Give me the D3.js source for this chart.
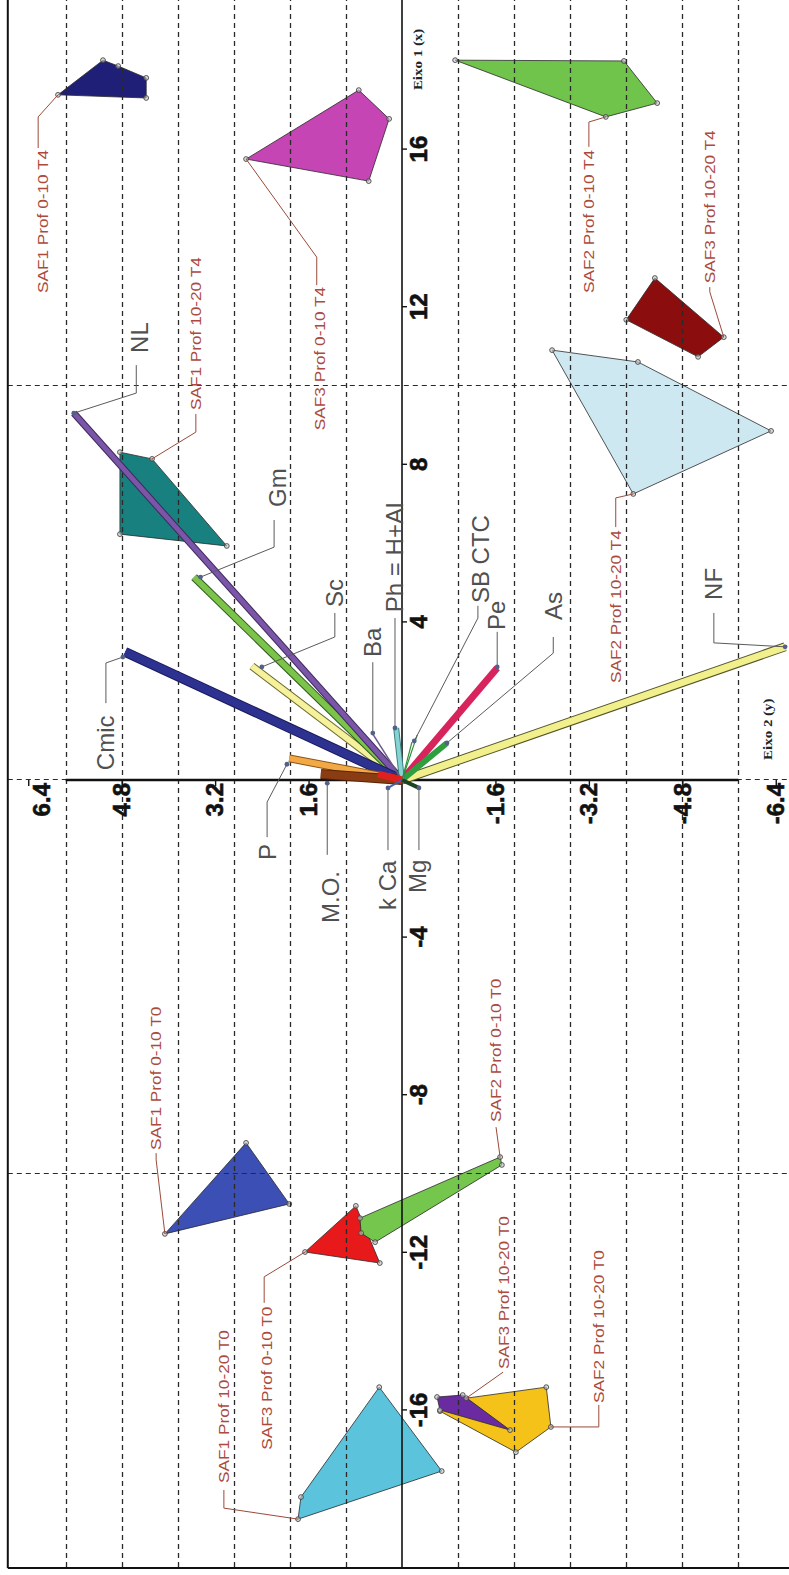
<!DOCTYPE html>
<html>
<head>
<meta charset="utf-8">
<script src="https://cdn.jsdelivr.net/npm/d3@7"></script>
<style>
  html, body { margin: 0; padding: 0; background: #fff; }
  svg { display: block; }
</style>
</head>
<body>
<svg id="chart" width="789" height="1575"></svg>
<script>
// ---------------------------------------------------------------
// PCA biplot (Eixo 1 x Eixo 2): sample-group hulls and soil variables
// ---------------------------------------------------------------

// Sample groups
const groupNames = [
  "SAF1 Prof 0-10 T4", "SAF3 Prof 0-10 T4", "SAF2 Prof 0-10 T4",
  "SAF3 Prof 10-20 T4", "SAF2 Prof 10-20 T4", "SAF1 Prof 10-20 T4",
  "SAF1 Prof 0-10 T0", "SAF3 Prof 0-10 T0", "SAF2 Prof 0-10 T0",
  "SAF1 Prof 10-20 T0", "SAF2 Prof 10-20 T0", "SAF3 Prof 10-20 T0"
];

// Replicate scores [Eixo 1, Eixo 2] forming each group's hull
const groupScores = [
  [[17.39, 5.89], [18.27, 5.12], [18.12, 4.86], [17.82, 4.38], [17.31, 4.38]],
  [[15.76, 2.67], [17.51, 0.74], [16.78, 0.22], [15.20, 0.57]],
  [[18.27, -0.91], [18.25, -3.80], [17.18, -4.37], [16.83, -3.49]],
  [[12.74, -4.33], [11.68, -3.84], [10.74, -5.07], [11.24, -5.51]],
  [[10.91, -2.57], [10.61, -4.04], [8.86, -6.32], [7.26, -3.96]],
  [[8.32, 4.83], [8.15, 4.28], [5.94, 3.00], [6.24, 4.83]],
  [[-9.21, 2.67], [-10.76, 1.93], [-11.52, 4.06]],
  [[-10.81, 0.79], [-11.98, 1.66], [-12.26, 0.38]],
  [[-9.57, -1.68], [-9.77, -1.71], [-11.73, 0.46], [-11.50, 0.70], [-11.12, 0.72]],
  [[-15.41, 0.39], [-17.54, -0.68], [-18.76, 1.78], [-18.20, 1.73]],
  [[-15.41, -2.47], [-16.42, -2.55], [-17.06, -1.95], [-16.02, -0.65], [-15.69, -1.10]],
  [[-15.66, -0.60], [-15.61, -1.04], [-16.50, -1.85], [-15.99, -0.65]]
];

// Soil variables and their loadings
const variableNames = ["NF", "Sc", "Gm", "NL", "Cmic", "P", "M.O.", "Pe", "As",
                       "Ph = H+Al", "Ba", "SB", "CTC", "K", "Ca", "Mg"];
const loadingEixo1 = [3.38, 2.89, 5.15, 9.31, 3.25, 0.55, 0.15, 2.84, 0.94,
                      1.32, 1.19, 1.14, 0.96, 0.15, -0.20, -0.20];
const loadingEixo2 = [-6.56, 2.57, 3.56, 5.62, 4.74, 1.93, 1.39, -1.63, -0.77,
                      0.10, 0.51, -0.26, -0.17, 0.41, 0.24, -0.29];

// Axis ticks
const eixo1Ticks = [-16, -12, -8, -4, 4, 8, 12, 16];
const eixo2Ticks = [6.4, 4.8, 3.2, 1.6, -1.6, -3.2, -4.8, -6.4];
const eixo2GridStep = 0.96;
const eixo1Grid = [-10, 0, 10];

// ---------------- styles ----------------
const groupColors = ["#1f1f78", "#c445b3", "#70c34b", "#8c0d0d", "#cde8f1", "#18807e",
                     "#3b4fb4", "#e8191b", "#74c64c", "#5cc3dd", "#f5c21a", "#6a2ba0"];
const vectorColors   = ["#f2f08c", "#f6f29c", "#7cc34a", "#7a55a8", "#2d3190", "#f2a845",
                        "#8a3c12", "#d8245c", "#2e9e3e", "#86d3d3", "#6a5a8a", "#2f8f3a",
                        "#2f8f3a", "#e0201e", "#4060b0", "#1d4422"];
const vectorWidths   = [7, 6, 6, 5, 8, 6, 8, 7, 6, 4, 1.5, 1.2, 1.2, 7, 2, 4];
const vectorOutlines = ["#55552a", "#6a6a30", "#2f5a1e", "#3d2a5c", "#1a1c5a", "#8a5418",
                        "#5a2408", null, null, "#3a8080", null, null, null, null, null, null];

// ---------------- label layout (Eixo 1 of text start, Eixo 2 of text centre) ----------
const groupLabelLayout = [
  { at: [12.36, 6.15],  leader: [[17.39, 5.89], [16.83, 6.23], [16.04, 6.23]] },
  { at: [8.88, 1.40],   leader: [[15.76, 2.67], [13.27, 1.46], [12.56, 1.46]] },
  { at: [12.36, -3.20], leader: [[16.83, -3.49], [16.70, -3.20], [16.07, -3.20]] },
  { at: [12.61, -5.27], leader: [[11.24, -5.51], [12.39, -5.27], [12.51, -5.27]] },
  { at: [2.46, -3.66],  leader: [[7.26, -3.96], [7.16, -3.66], [6.42, -3.66]] },
  { at: [9.39, 3.53],   leader: [[8.15, 4.28], [8.83, 3.53], [9.29, 3.53]] },
  { at: [-9.39, 4.21],  leader: [[-11.52, 4.06], [-9.64, 4.21], [-9.47, 4.21]] },
  { at: [-17.0, 2.31],  leader: [[-11.98, 1.66], [-12.61, 2.36], [-13.27, 2.36]] },
  { at: [-8.68, -1.61], leader: [[-9.57, -1.68], [-8.81, -1.61]] },
  { at: [-17.84, 3.05], leader: [[-18.76, 1.78], [-18.48, 3.05], [-18.02, 3.05]] },
  { at: [-15.81, -3.37], leader: [[-16.42, -2.55], [-16.42, -3.37], [-15.86, -3.37]] },
  { at: [-14.95, -1.75], leader: [[-15.69, -1.10], [-15.03, -1.73]] }
];

const variableLabels = ["NL", "Gm", "Cmic", "Sc", "Ba", "Ph = H+Al", "SB CTC", "Pe",
                        "As", "NF", "P", "M.O.", "k Ca", "Mg"];
const variableLabelLayout = [
  { at: [10.84, 4.49],  leader: [[10.53, 4.55], [9.82, 4.55], [9.31, 5.62]] },
  { at: [6.93, 2.14],   leader: [[6.60, 2.19], [5.91, 2.19], [5.15, 3.45]] },
  { at: [0.25, 5.07],   leader: [[1.95, 5.07], [2.97, 5.07], [3.12, 4.78]] },
  { at: [4.39, 1.15],   leader: [[4.24, 1.15], [3.63, 1.15], [2.87, 2.40]] },
  { at: [3.12, 0.50],   leader: [[2.99, 0.50], [1.19, 0.50]] },
  { at: [4.26, 0.12],   leader: [[4.11, 0.12], [1.32, 0.12]] },
  { at: [4.49, -1.34],  leader: [[4.42, -1.30], [4.11, -1.30], [0.99, -0.21]] },
  { at: [3.81, -1.61],  leader: [[3.76, -1.63], [2.87, -1.63]] },
  { at: [4.06, -2.59],  leader: [[3.63, -2.59], [3.22, -2.59], [0.94, -0.77]] },
  { at: [4.57, -5.34],  leader: [[4.24, -5.34], [3.48, -5.34], [3.38, -6.56]] },
  { at: [-2.03, 2.31],  leader: [[-1.45, 2.31], [-0.56, 2.31], [0.40, 1.97]] },
  { at: [-3.63, 1.23],  leader: [[-1.90, 1.28], [-0.08, 1.28]] },
  { at: [-3.30, 0.24],  leader: [[-1.78, 0.24], [-0.20, 0.24]] },
  { at: [-2.87, -0.27], leader: [[-1.78, -0.29], [-0.20, -0.29]] }
];

// ---------------- drawing ----------------
const W = 1575, H = 789;           // chart drawn landscape, then turned upright
const svg = d3.select("#chart");
svg.append("rect").attr("width", 789).attr("height", 1575).attr("fill", "#fff");
const g = svg.append("g").attr("transform", `translate(0,${W}) rotate(-90)`);

const x = d3.scaleLinear().domain([-20, 20]).range([7, 1583]);     // Eixo 1
const y = d3.scaleLinear().domain([-7, 7]).range([810.8, -6.8]);   // Eixo 2
const frameE1Min = -20, frameE2Max = 6.75, frameE1Max = 20, frameE2Min = -7;
const yAxisExtent = 6 * eixo2GridStep;

const SANS = "'Liberation Sans', Arial, sans-serif";
const SERIF = "'Liberation Serif', 'Times New Roman', serif";

// group hulls
const hulls = g.append("g");
groupScores.forEach((pts, i) => {
  hulls.append("polygon")
    .attr("points", pts.map(p => `${x(p[0])},${y(p[1])}`).join(" "))
    .attr("fill", groupColors[i])
    .attr("stroke", "#2a2a2a")
    .attr("stroke-width", 0.8)
    .attr("stroke-linejoin", "round");
});

// grid
const grid = g.append("g");
const gridE2 = d3.range(-6, 7).filter(k => k !== 0).map(k => k * eixo2GridStep);
grid.selectAll("line.ge2").data(gridE2).join("line")
  .attr("x1", 8).attr("x2", x(frameE1Max))
  .attr("y1", d => Math.round(y(d)) + 0.5).attr("y2", d => Math.round(y(d)) + 0.5)
  .attr("stroke", "#2a2a2a").attr("stroke-width", 1.3)
  .attr("stroke-dasharray", "5,4");
grid.selectAll("line.ge1").data(eixo1Grid).join("line")
  .attr("x1", d => Math.round(x(d)) + 0.5).attr("x2", d => Math.round(x(d)) + 0.5)
  .attr("y1", y(frameE2Max)).attr("y2", y(frameE2Min))
  .attr("stroke", "#2a2a2a").attr("stroke-width", 1.2)
  .attr("stroke-dasharray", "5,4");

// axes lines
g.append("line")
  .attr("x1", x(frameE1Min)).attr("x2", x(frameE1Max))
  .attr("y1", y(0)).attr("y2", y(0))
  .attr("stroke", "#111").attr("stroke-width", 1.6);
g.append("line")
  .attr("x1", x(0)).attr("x2", x(0))
  .attr("y1", y(yAxisExtent)).attr("y2", y(-yAxisExtent))
  .attr("stroke", "#111").attr("stroke-width", 2.6);

// hull vertex markers
groupScores.forEach(pts => {
  hulls.append("g").selectAll("circle").data(pts).join("circle")
    .attr("cx", p => x(p[0])).attr("cy", p => y(p[1])).attr("r", 2.4)
    .attr("fill", "#c8c8c8").attr("fill-opacity", 0.6)
    .attr("stroke", "#444").attr("stroke-width", 0.9);
});

// variable vectors
const vectors = g.append("g");
variableNames.forEach((name, i) => {
  const x2 = x(loadingEixo1[i]), y2 = y(loadingEixo2[i]);
  if (vectorOutlines[i]) {
    vectors.append("line")
      .attr("x1", x(0)).attr("y1", y(0)).attr("x2", x2).attr("y2", y2)
      .attr("stroke", vectorOutlines[i]).attr("stroke-width", vectorWidths[i] + 2);
  }
  vectors.append("line")
    .attr("x1", x(0)).attr("y1", y(0)).attr("x2", x2).attr("y2", y2)
    .attr("stroke", vectorColors[i]).attr("stroke-width", vectorWidths[i]);
});

const line = d3.line().x(p => x(p[0])).y(p => y(p[1]));

// variable labels with leaders
const varLab = g.append("g");
variableLabelLayout.forEach((lay, i) => {
  varLab.append("path").attr("d", line(lay.leader))
    .attr("fill", "none").attr("stroke", "#5a5a5a").attr("stroke-width", 1);
  const tip = lay.leader[lay.leader.length - 1];
  varLab.append("circle").attr("cx", x(tip[0])).attr("cy", y(tip[1])).attr("r", 2.4)
    .attr("fill", "#55608a");
  varLab.append("text")
    .attr("x", x(lay.at[0])).attr("y", y(lay.at[1]))
    .attr("dominant-baseline", "central")
    .attr("font-family", SANS).attr("font-size", 24)
    .attr("fill", "#505050")
    .text(variableLabels[i]);
});

// group labels with leaders
const grpLab = g.append("g");
groupLabelLayout.forEach((lay, i) => {
  grpLab.append("path").attr("d", line(lay.leader))
    .attr("fill", "none").attr("stroke", "#9a4a3a").attr("stroke-width", 1);
  grpLab.append("text")
    .attr("transform", `translate(${x(lay.at[0])},${y(lay.at[1])}) scale(1.23,1)`)
    .attr("dominant-baseline", "central")
    .attr("font-family", SANS).attr("font-size", 14)
    .attr("fill", "#ac4a3e")
    .text(groupNames[i]);
});

// Eixo 1 ticks and labels
const ax1 = g.append("g").attr("transform", `translate(0,${y(0)})`)
  .call(d3.axisBottom(x).tickValues(eixo1Ticks).tickSize(5).tickPadding(3)
          .tickFormat(d => String(d)));
ax1.select(".domain").remove();
ax1.selectAll(".tick line").attr("stroke", "#111").attr("stroke-width", 1.4);
ax1.selectAll(".tick text")
  .attr("font-family", SANS).attr("font-weight", "bold").attr("font-size", 24)
  .attr("fill", "#111").attr("stroke", "#111").attr("stroke-width", 0.6);

// Eixo 2 ticks and labels
const ax2 = g.append("g").attr("transform", `translate(${x(0)},0)`)
  .call(d3.axisLeft(y).tickValues(eixo2Ticks).tickSize(6).tickPadding(-3)
          .tickFormat(d => d.toFixed(1)));
ax2.select(".domain").remove();
ax2.selectAll(".tick line").attr("stroke", "#111").attr("stroke-width", 1.4);
ax2.selectAll(".tick text")
  .attr("font-family", SANS).attr("font-weight", "bold").attr("font-size", 24)
  .attr("fill", "#111").attr("stroke", "#111").attr("stroke-width", 0.6)
  .attr("dy", d => (y(d) - y(frameE2Max) < 30 ? "0.9em" : "0.32em"));

// axis titles
g.append("text")
  .attr("transform", `translate(${x(17.51)},${y(-0.27)}) scale(1.15,1)`)
  .attr("dominant-baseline", "central")
  .attr("font-family", SERIF).attr("font-weight", "bold").attr("font-size", 13)
  .attr("fill", "#222").text("Eixo 1 (x)");
g.append("text")
  .attr("transform", `translate(${x(0.51)},${y(-6.27)}) scale(1.15,1)`)
  .attr("dominant-baseline", "central")
  .attr("font-family", SERIF).attr("font-weight", "bold").attr("font-size", 13)
  .attr("fill", "#222").text("Eixo 2 (y)");

// frame (left and bottom edges fall inside the page)
g.append("line")
  .attr("x1", x(frameE1Min)).attr("x2", x(frameE1Max))
  .attr("y1", y(frameE2Max)).attr("y2", y(frameE2Max))
  .attr("stroke", "#111").attr("stroke-width", 2);
g.append("line")
  .attr("x1", x(frameE1Min)).attr("x2", x(frameE1Min))
  .attr("y1", y(frameE2Max)).attr("y2", y(frameE2Min))
  .attr("stroke", "#111").attr("stroke-width", 2);
</script>
</body>
</html>
